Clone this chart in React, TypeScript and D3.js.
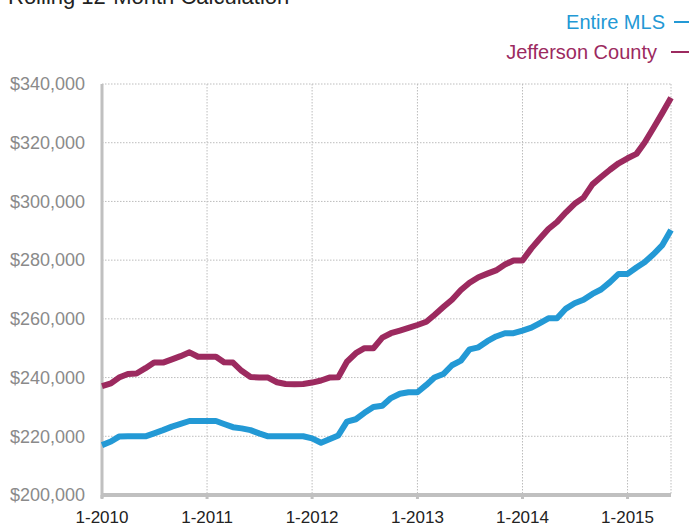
import React from 'react';
import * as d3 from 'd3';

const W = 689;
const H = 527;

// monthly values in $1,000s, Jan 2010 .. Jun 2015
const entireMLS = [
  217.0, 218.2, 219.9, 220.0, 220.0, 220.0, 221.0, 222.1, 223.3, 224.2, 225.2, 225.2,
  225.2, 225.2, 224.2, 223.1, 222.7, 222.1, 221.0, 220.0, 220.0, 220.0, 220.0, 220.0,
  219.3, 217.8, 219.0, 220.3, 225.0, 225.8, 228.0, 230.0, 230.4, 233.0, 234.5, 235.0,
  235.0, 237.5, 240.0, 241.2, 244.2, 245.8, 249.6, 250.3, 252.4, 254.0, 255.1, 255.1,
  256.0, 257.0, 258.5, 260.2, 260.2, 263.5, 265.3, 266.5, 268.5, 270.0, 272.5, 275.3,
  275.3, 277.5, 279.3, 282.0, 285.0, 290.3,
];

const jeffersonCounty = [
  237.1, 238.0, 240.0, 241.2, 241.4, 243.2, 245.1, 245.1, 246.2, 247.3, 248.6, 247.1,
  247.1, 247.1, 245.2, 245.1, 242.3, 240.2, 240.0, 240.0, 238.4, 237.8, 237.7, 237.8,
  238.3, 239.0, 240.0, 240.1, 245.4, 248.3, 250.0, 250.0, 253.6, 255.1, 256.0, 256.9,
  257.9, 259.0, 261.3, 264.0, 266.5, 269.8, 272.3, 274.2, 275.4, 276.5, 278.5, 279.9,
  279.9, 284.0, 287.2, 290.6, 293.0, 296.3, 299.2, 301.3, 305.8, 308.3, 310.8, 313.0,
  314.7, 316.2, 320.0, 325.0, 330.0, 335.3,
];

const yTicks = [200000, 220000, 240000, 260000, 280000, 300000, 320000, 340000];
const xTickLabels = ['1-2010', '1-2011', '1-2012', '1-2013', '1-2014', '1-2015'];

const series = [
  { name: 'Entire MLS', values: entireMLS, color: '#2399d5' },
  { name: 'Jefferson County', values: jeffersonCounty, color: '#9c2a5f' },
];

const margin = { top: 84, right: 18, bottom: 32, left: 102 };

export default function App() {
  const innerW = W - margin.left - margin.right;
  const innerH = H - margin.top - margin.bottom;

  const start = new Date(2010, 0, 1);
  const months = d3.timeMonth.range(start, d3.timeMonth.offset(start, entireMLS.length));

  const x = d3
    .scaleTime()
    .domain([months[0], months[months.length - 1]])
    .range([0, innerW]);
  const y = d3.scaleLinear().domain([200000, 340000]).range([innerH, 0]);

  const line = d3
    .line<number>()
    .x((_, i) => x(months[i]))
    .y((d) => y(d * 1000));

  const yearTicks = xTickLabels.map((_, i) => new Date(2010 + i, 0, 1));
  const fmt = d3.format('$,');

  return (
    <svg
      width={W}
      height={H}
      style={{ position: 'absolute', left: 0, top: 0, fontFamily: 'Liberation Sans, Arial, sans-serif' }}
    >
      <rect width={W} height={H} fill="#fff" />
      {/* title is clipped by the top edge, as in the source image */}
      <text x={8} y={4} fontSize={22} fill="#222">
        Rolling 12-Month Calculation
      </text>

      {/* legend */}
      {series.map((s, i) => (
        <g key={s.name} transform={`translate(0, ${29 + i * 30})`}>
          <text x={665 - i * 8} y={0} textAnchor="end" fontSize={20} fill={s.color}>
            {s.name}
          </text>
          <line x1={674 - i * 3} x2={690} y1={-7} y2={-7} stroke={s.color} strokeWidth={2} />
        </g>
      ))}

      <g transform={`translate(${margin.left}, ${margin.top})`}>
        {/* gridlines */}
        {yTicks.slice(1).map((t) => (
          <line
            key={t}
            x1={0}
            x2={innerW}
            y1={y(t)}
            y2={y(t)}
            stroke="#bdbdbd"
            strokeWidth={1}
            strokeDasharray="1.5,1.5"
          />
        ))}
        {yearTicks.slice(1).map((d) => (
          <line
            key={+d}
            x1={x(d)}
            x2={x(d)}
            y1={0}
            y2={innerH}
            stroke="#bdbdbd"
            strokeWidth={1}
            strokeDasharray="1.5,1.5"
          />
        ))}
        <line x1={innerW} x2={innerW} y1={0} y2={innerH} stroke="#bdbdbd" strokeWidth={1} strokeDasharray="1.5,1.5" />

        {/* axes */}
        <line x1={0} x2={0} y1={0} y2={innerH + 3} stroke="#c0c0c0" strokeWidth={3} />
        <line x1={0} x2={innerW} y1={innerH} y2={innerH} stroke="#c0c0c0" strokeWidth={4} />
        {yearTicks.map((d) => (
          <line key={+d} x1={x(d)} x2={x(d)} y1={innerH} y2={innerH + 4} stroke="#c0c0c0" strokeWidth={3} />
        ))}

        {yTicks.map((t) => (
          <text key={t} x={-17} y={y(t)} dy="0.35em" textAnchor="end" fontSize={18} fill="#8a8a8a">
            {fmt(t)}
          </text>
        ))}
        {yearTicks.map((d, i) => (
          <text key={+d} x={x(d)} y={innerH + 28} textAnchor="middle" fontSize={17} fill="#222">
            {xTickLabels[i]}
          </text>
        ))}

        {series.map((s) => (
          <path
            key={s.name}
            d={line(s.values) ?? ''}
            fill="none"
            stroke={s.color}
            strokeWidth={6}
            strokeLinejoin="round"
          />
        ))}
      </g>
    </svg>
  );
}
